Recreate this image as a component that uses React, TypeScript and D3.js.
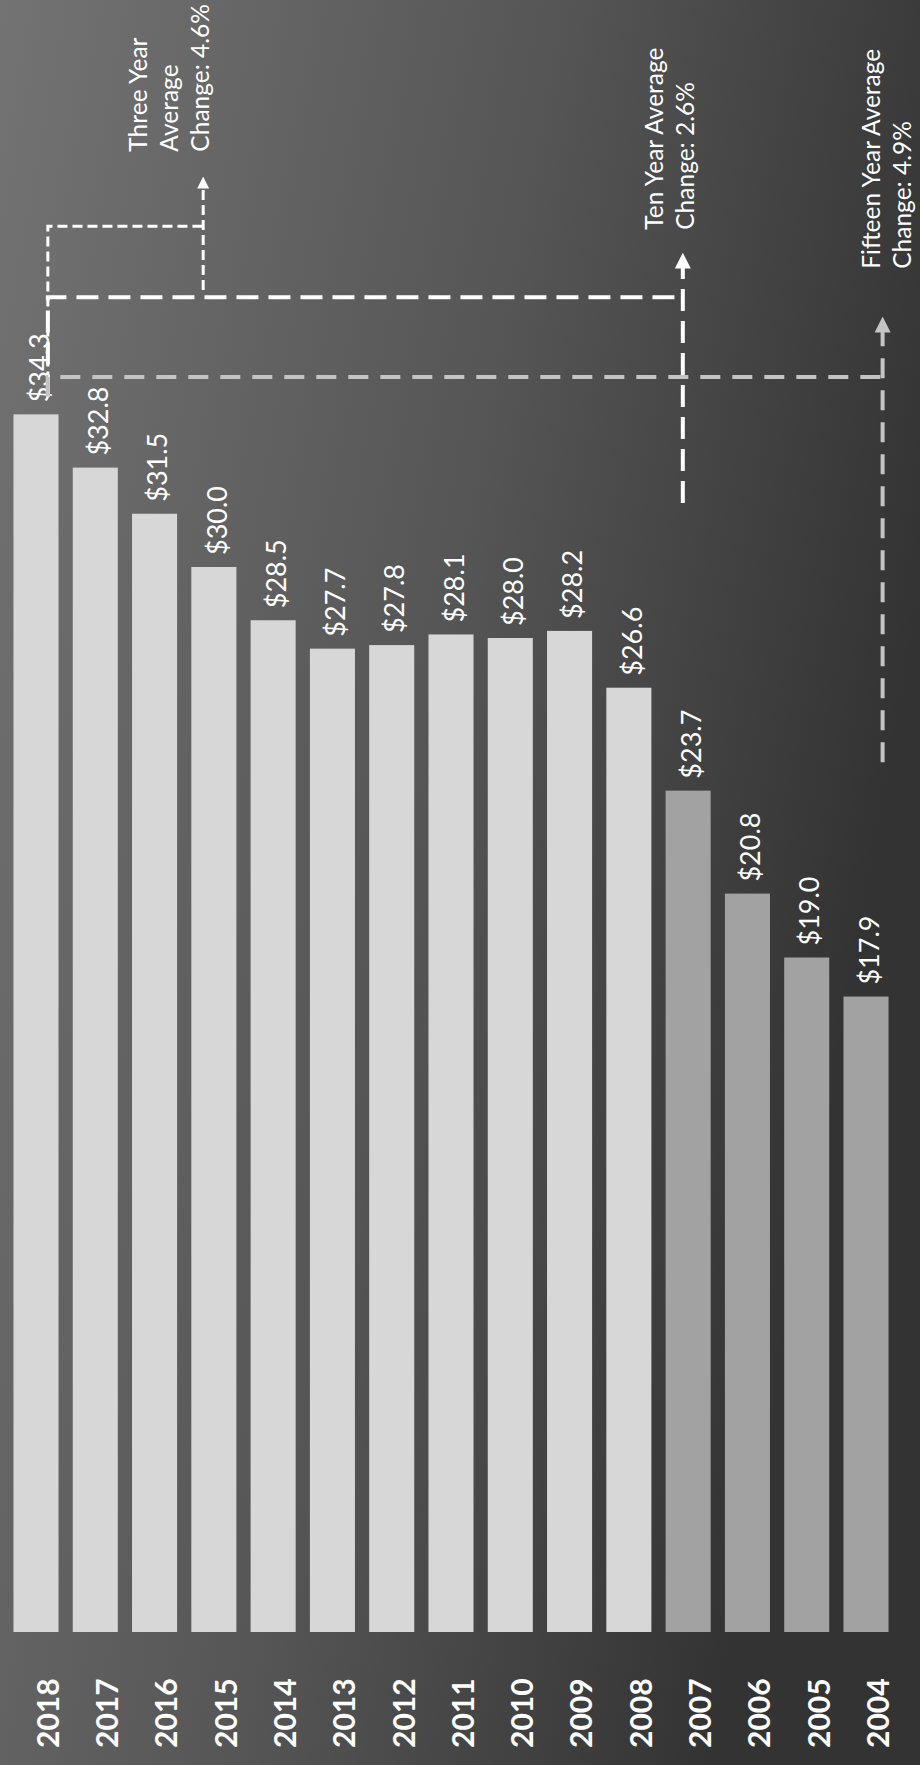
import React from "react";
import * as d3 from "d3";

const years = ["2018","2017","2016","2015","2014","2013","2012","2011","2010","2009","2008","2007","2006","2005","2004"];
const values = [34.3, 32.8, 31.5, 30.0, 28.5, 27.7, 27.8, 28.1, 28.0, 28.2, 26.6, 23.7, 20.8, 19.0, 17.9];
const barGroups = ["recent","recent","recent","recent","recent","recent","recent","recent","recent","recent","recent","early","early","early","early"];

// annotations: "Average Change" brackets
const avgLabels = [
  ["Three Year", "Average", "Change: 4.6%"],
  ["Ten Year Average", "Change: 2.6%"],
  ["Fifteen Year Average", "Change: 4.9%"],
];
const avgLevel = [39.6, 37.6, 35.35];      // value level of horizontal dashed segment
const avgArrowPos = [2.82, 10.91, 14.28];  // position in bar-index units
const avgArrowTop = [41.0, 38.8, 37.0];
const avgArrowBottom = [37.8, 31.8, 24.5];
const avgTextStart = [41.7, 39.5, 38.4];
const avgTextPos = [2.92, 11.1, 14.76];
const avgDash = ["10 5", "22 10", "20 12"];
const avgColor = ["#ffffff", "#ffffff", "#c4c4c4"];
const bracketStartPos = 0.2;
const bracketStartLevel = 34.8;

const W = 920, H = 1765;
const baseY = 1632;

export default function App() {
  const x = d3.scaleBand<string>().domain(years).range([6.35, 895.65]).paddingInner(0.24).paddingOuter(0.12);
  const y = d3.scaleLinear().domain([0, 46]).range([baseY, baseY - 46 * 35.5]);
  const c0 = (x(years[0]) ?? 0) + x.bandwidth() / 2;
  const idx = d3.scaleLinear().domain([0, 1]).range([c0, c0 + x.step()]);
  const fill = d3.scaleOrdinal<string, string>().domain(["recent", "early"]).range(["#d7d7d7", "#a2a2a2"]);
  const font = "Lato, 'Open Sans', sans-serif";
  const lineGap = 31;

  return (
    <svg width={W} height={H} style={{ position: "absolute", left: 0, top: 0 }} fontFamily={font}>
      <defs>
        <linearGradient id="bg" x1="0" y1="0" x2="1" y2="0.35">
          <stop offset="0" stopColor="#737373" />
          <stop offset="0.55" stopColor="#555555" />
          <stop offset="1" stopColor="#333333" />
        </linearGradient>
        {avgColor.map((c, i) => (
          <marker key={i} id={"arr" + i} viewBox="0 0 10 10" refX="5" refY="5" markerWidth="4" markerHeight="4" orient="auto">
            <path d="M0,0 L10,5 L0,10 z" fill={c} />
          </marker>
        ))}
      </defs>
      <rect x={0} y={0} width={W} height={H} fill="url(#bg)" />

      {years.map((yr, i) => (
        <rect key={yr} x={x(yr)} y={y(values[i])} width={x.bandwidth()} height={baseY - y(values[i])} fill={fill(barGroups[i])} />
      ))}

      {years.map((yr, i) => {
        const cx = (x(yr) ?? 0) + x.bandwidth() / 2 + 3;
        return (
          <text key={"v" + yr} transform={`translate(${cx},${y(values[i]) - 12}) rotate(-90)`} dy="0.36em" fill="#fff" fontSize={27} textAnchor="start">
            {"$" + values[i].toFixed(1)}
          </text>
        );
      })}

      {years.map((yr, i) => {
        const cx = (x(yr) ?? 0) + x.bandwidth() / 2 + 12;
        return (
          <text key={"y" + yr} transform={`translate(${cx},${baseY + 116}) rotate(-90)`} dy="0.36em" fill="#fff" fontSize={30} fontWeight="bold" textAnchor="start">
            {yr}
          </text>
        );
      })}

      {avgLabels.map((lines, i) => (
        <g key={"a" + i}>
          <path d={`M${idx(bracketStartPos)},${y(bracketStartLevel)} V${y(avgLevel[i])} H${idx(avgArrowPos[i])}`} fill="none" stroke={avgColor[i]} strokeWidth={i === 0 ? 3 : 4} strokeDasharray={avgDash[i]} />
          <line x1={idx(avgArrowPos[i])} x2={idx(avgArrowPos[i])} y1={y(avgArrowBottom[i])} y2={y(avgArrowTop[i]) + 6} stroke={avgColor[i]} strokeWidth={i === 0 ? 3 : 4} strokeDasharray={avgDash[i]} markerEnd={`url(#arr${i})`} />
          {lines.map((t, j) => (
            <text key={j} transform={`translate(${idx(avgTextPos[i]) - (lines.length - 1 - j) * lineGap},${y(avgTextStart[i])}) rotate(-90)`} fill="#fff" fontSize={24.5} textAnchor="start">
              {t}
            </text>
          ))}
        </g>
      ))}
    </svg>
  );
}
